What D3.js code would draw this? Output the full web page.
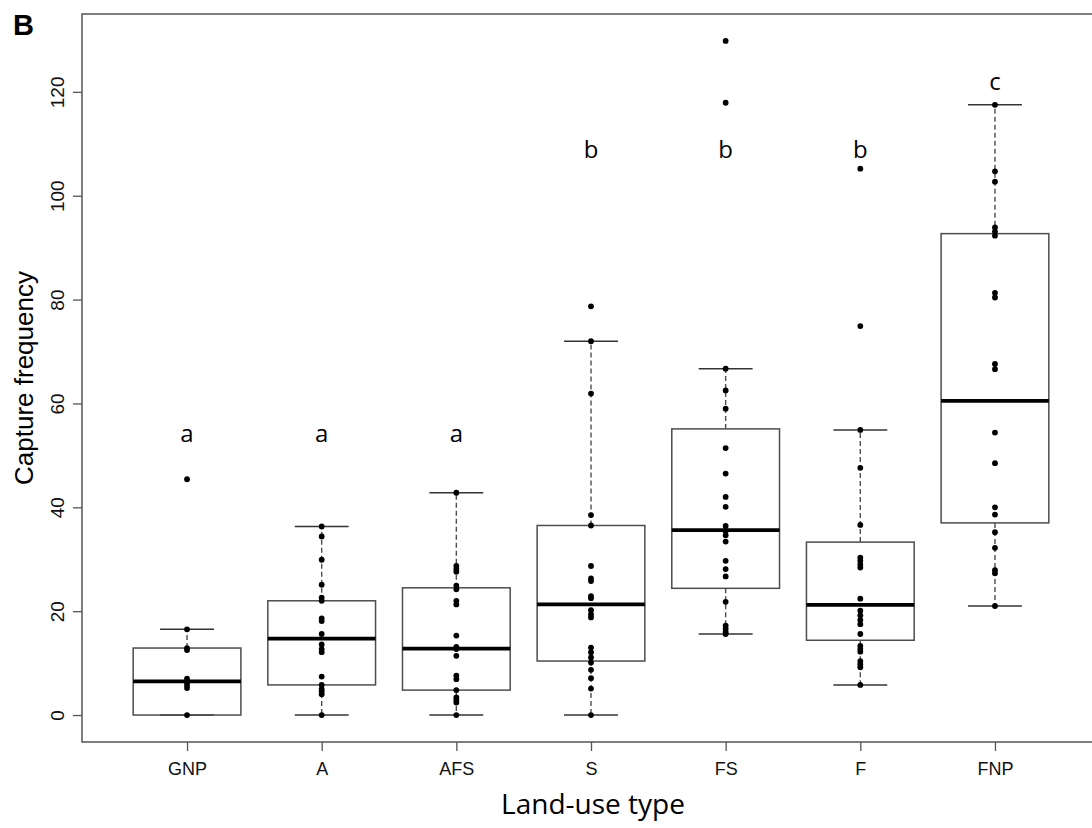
<!DOCTYPE html>
<html>
<head>
<meta charset="utf-8">
<script src="https://cdn.jsdelivr.net/npm/d3@7"></script>
<style>
  html, body { margin: 0; padding: 0; background: #fff; }
  svg { display: block; }
</style>
</head>
<body>
<svg id="chart" width="1092" height="828"></svg>
<script>
// ---- data ----
const categories = ["GNP", "A", "AFS", "S", "FS", "F", "FNP"];
const groupLetters = ["a", "a", "a", "b", "b", "b", "c"];
const letterValues = [52.5, 52.5, 52.5, 107.3, 107.3, 107.3, 120.4];

const whiskerLow  = [0,    0,    0,    0,    15.6, 5.8,  21.0];
const quartile1   = [0,    5.8,  4.8,  10.4, 24.4, 14.4, 37.0];
const medians     = [6.5,  14.7, 12.8, 21.3, 35.6, 21.2, 60.5];
const quartile3   = [12.9, 22.0, 24.5, 36.5, 55.1, 33.3, 92.7];
const whiskerHigh = [16.5, 36.3, 42.8, 72.0, 66.7, 54.9, 117.5];

const pointsGNP = [0, 5.2, 5.8, 6.3, 7.0, 12.5, 12.9, 16.5, 45.4];
const pointsA   = [0, 4.0, 4.6, 5.0, 5.8, 7.4, 12.1, 12.7, 13.6, 15.6, 18.1, 18.6, 22.0, 22.6, 25.1, 29.9, 34.4, 36.3];
const pointsAFS = [0, 2.4, 2.9, 3.4, 4.8, 6.9, 7.6, 11.4, 12.7, 13.1, 15.3, 21.3, 22.0, 24.2, 24.9, 27.6, 28.1, 28.7, 42.8];
const pointsS   = [0, 5.1, 7.1, 8.7, 10.1, 11.1, 12.1, 13.0, 18.8, 19.4, 20.2, 22.5, 22.9, 25.8, 26.3, 28.7, 36.5, 38.5, 61.9, 72.0, 78.7];
const pointsFS  = [15.6, 16.0, 16.6, 17.2, 21.8, 26.7, 28.1, 29.7, 33.4, 34.6, 35.4, 36.4, 40.1, 42.0, 46.5, 51.4, 59.0, 62.5, 66.7, 117.9, 129.8];
const pointsF   = [5.8, 9.2, 9.8, 10.4, 12.2, 12.7, 13.3, 15.6, 17.5, 18.3, 19.2, 20.1, 22.4, 28.4, 29.0, 29.7, 30.3, 36.6, 47.6, 54.9, 74.9, 105.2];
const pointsFNP = [21.0, 27.3, 27.9, 32.2, 35.2, 38.6, 40.0, 48.5, 54.4, 66.6, 67.6, 80.4, 81.3, 92.3, 93.1, 93.9, 102.7, 104.7, 117.5];
const pointSets = [pointsGNP, pointsA, pointsAFS, pointsS, pointsFS, pointsF, pointsFNP];

const yTicks = [0, 20, 40, 60, 80, 100, 120];
const panelLabel = "B";
const xTitle = "Land-use type";
const yTitle = "Capture frequency";

// ---- layout ----
const frame = { left: 82, top: 14, right: 1100, bottom: 742 };
const svg = d3.select("#chart");

const allVals = pointSets.flat();
const [dMin, dMax] = d3.extent(allVals);
const pad = (dMax - dMin) * 0.04;

const x = d3.scalePoint().domain(categories).range([frame.left, frame.right]).padding(0.78);
const step = x.step();
const y = d3.scaleLinear().domain([dMin - pad, dMax + pad]).range([frame.bottom, frame.top]);

const boxHalf = step * 0.4;
const capHalf = step * 0.2;
const stroke = "#4d4d4d";

const groups = categories.map((c, i) => ({
  cat: c, lo: whiskerLow[i], q1: quartile1[i], med: medians[i], q3: quartile3[i], hi: whiskerHigh[i],
  pts: pointSets[i], letter: groupLetters[i], letterV: letterValues[i]
}));

const g = svg.append("g");

// whiskers (dashed)
g.selectAll(".wl").data(groups).join("line")
  .attr("x1", d => x(d.cat)).attr("x2", d => x(d.cat))
  .attr("y1", d => y(d.q3)).attr("y2", d => y(d.hi))
  .attr("stroke", stroke).attr("stroke-width", 1.4).attr("stroke-dasharray", "5,3");
g.selectAll(".wl2").data(groups.filter(d => d.lo < d.q1)).join("line")
  .attr("x1", d => x(d.cat)).attr("x2", d => x(d.cat))
  .attr("y1", d => y(d.q1)).attr("y2", d => y(d.lo))
  .attr("stroke", stroke).attr("stroke-width", 1.4).attr("stroke-dasharray", "5,3");

// caps
g.selectAll(".capH").data(groups).join("line")
  .attr("x1", d => x(d.cat) - capHalf).attr("x2", d => x(d.cat) + capHalf)
  .attr("y1", d => y(d.hi)).attr("y2", d => y(d.hi))
  .attr("stroke", "#333").attr("stroke-width", 1.5);
g.selectAll(".capL").data(groups).join("line")
  .attr("x1", d => x(d.cat) - capHalf).attr("x2", d => x(d.cat) + capHalf)
  .attr("y1", d => y(d.lo)).attr("y2", d => y(d.lo))
  .attr("stroke", "#333").attr("stroke-width", 1.5);

// boxes
g.selectAll(".box").data(groups).join("rect")
  .attr("x", d => x(d.cat) - boxHalf).attr("width", boxHalf * 2)
  .attr("y", d => y(d.q3)).attr("height", d => y(d.q1) - y(d.q3))
  .attr("fill", "none").attr("stroke", stroke).attr("stroke-width", 1.5);

// medians
g.selectAll(".med").data(groups).join("line")
  .attr("x1", d => x(d.cat) - boxHalf).attr("x2", d => x(d.cat) + boxHalf)
  .attr("y1", d => y(d.med)).attr("y2", d => y(d.med))
  .attr("stroke", "#000").attr("stroke-width", 3.8);

// points
groups.forEach(d => {
  g.selectAll(null).data(d.pts).join("circle")
    .attr("cx", x(d.cat)).attr("cy", v => y(v)).attr("r", 2.9).attr("fill", "#000");
});

// significance letters
g.selectAll(".letter").data(groups).join("text")
  .attr("x", d => x(d.cat)).attr("y", d => y(d.letterV))
  .attr("text-anchor", "middle")
  .attr("font-family", "'Open Sans', sans-serif").attr("font-size", 24)
  .attr("fill", "#000").text(d => d.letter);

// frame
svg.append("rect")
  .attr("x", frame.left).attr("y", frame.top)
  .attr("width", frame.right - frame.left).attr("height", frame.bottom - frame.top)
  .attr("fill", "none").attr("stroke", "#555").attr("stroke-width", 1.5);

// y axis
const yAxis = svg.append("g").attr("transform", `translate(${frame.left},0)`)
  .call(d3.axisLeft(y).tickValues(yTicks).tickSize(9).tickFormat(d3.format("d")));
yAxis.select(".domain").remove();
yAxis.selectAll(".tick line").attr("stroke", "#555").attr("stroke-width", 1.3);
yAxis.selectAll(".tick text")
  .attr("x", 0).attr("y", 0).attr("dy", 0)
  .attr("transform", "translate(-18,0) rotate(-90)")
  .attr("text-anchor", "middle")
  .attr("font-family", "'Liberation Sans', Arial, sans-serif").attr("font-size", 19)
  .attr("fill", "#111");

// x axis
const xAxis = svg.append("g").attr("transform", `translate(0,${frame.bottom})`)
  .call(d3.axisBottom(x).tickSize(9));
xAxis.select(".domain").remove();
xAxis.selectAll(".tick line").attr("stroke", "#555").attr("stroke-width", 1.3);
xAxis.selectAll(".tick text")
  .attr("y", 33).attr("dy", 0)
  .attr("font-family", "'Liberation Sans', Arial, sans-serif").attr("font-size", 18)
  .attr("fill", "#111");

// titles
svg.append("text")
  .attr("x", 593).attr("y", 814).attr("text-anchor", "middle")
  .attr("font-family", "'Open Sans', sans-serif").attr("font-size", 28)
  .attr("fill", "#000").text(xTitle);
svg.append("text")
  .attr("transform", `translate(33,${(frame.top + frame.bottom) / 2}) rotate(-90)`)
  .attr("text-anchor", "middle")
  .attr("font-family", "'Liberation Sans', Arial, sans-serif").attr("font-size", 26)
  .attr("fill", "#000").text(yTitle);
svg.append("text")
  .attr("x", 13).attr("y", 35)
  .attr("font-family", "'Liberation Sans', Arial, sans-serif").attr("font-weight", "bold").attr("font-size", 29)
  .attr("fill", "#000").text(panelLabel);
</script>
</body>
</html>
